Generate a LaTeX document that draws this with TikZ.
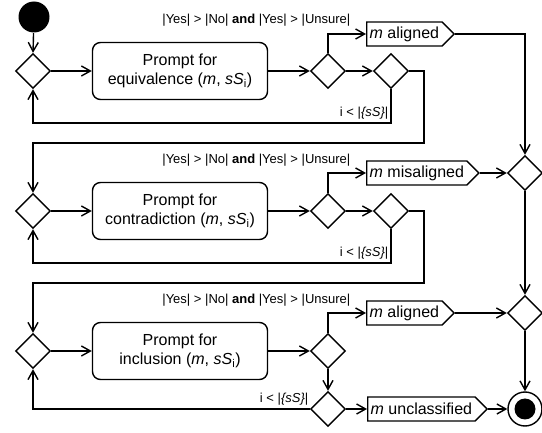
\documentclass[tikz,border=0pt]{standalone}
\usepackage{fontspec}
\setmainfont{Liberation Sans}
\usetikzlibrary{positioning,arrows.meta,shapes.geometric,shapes.symbols}

\begin{document}
\begin{tikzpicture}[
    x=1pt, y=-1pt,
    font=\fontsize{16}{19}\selectfont,
    line width=1.4pt,
    prompt/.style={
        draw,
        rounded corners=8pt,
        align=center,
        minimum width=175pt,
        minimum height=57pt,
        inner sep=2pt,
        fill=white
    },
    choice/.style={
        draw,
        diamond,
        minimum width=35pt,
        minimum height=35pt,
        inner sep=0pt,
        fill=white
    },
    result/.style={
        draw,
        signal,
        signal to=east,
        minimum height=24pt,
        inner sep=3pt,
        anchor=west,
        fill=white
    },
    cond/.style={
        font=\fontsize{13}{15}\selectfont,
        inner sep=0pt
    },
    arrow/.style={
        -{Straight Barb[length=9pt,width=10pt]}
    }
]

\useasboundingbox (0,0) rectangle (542,433);

% start
\node[fill, circle, minimum size=31pt, inner sep=0pt] (start) at (34,17) {};

% =========================
% first round: equivalence
% =========================
\node[choice] (d1) at (33,71) {};
\node[prompt] (p1) at (180,71) {Prompt for\\equivalence (\textit{m}, \textit{sS}\textsubscript{i})};
\node[choice] (d2) at (328,71) {};
\node[choice] (d3) at (391,71) {};
\node[result] (al1) at (366,34) {\textit{m} aligned};

\node[cond, anchor=east] (c1) at (351,20) {|Yes| > |No| \textbf{and} |Yes| > |Unsure|};
\node[cond, anchor=south east] (n1) at (389,120) {i < |\textit{\{sS\}}|};

\coordinate (r1) at (424,143);
\coordinate (b1) at (33,123);

\draw[arrow] (start) -- (d1.north);
\draw[arrow] (d1.east) -- (p1.west);
\draw[arrow] (p1.east) -- (d2.west);
\draw[arrow] (d2.east) -- (d3.west);
\draw[arrow] (d2.north) |- (al1.west);
\draw[arrow] (d3.south) |- (b1) -- (d1.south);

% =========================
% second round: contradiction
% =========================
\node[choice] (d4) at (33,211) {};
\node[prompt] (p2) at (180,211) {Prompt for\\contradiction (\textit{m}, \textit{sS}\textsubscript{i})};
\node[choice] (d5) at (328,211) {};
\node[choice] (d6) at (391,211) {};
\node[result] (mis) at (366,173) {\textit{m} misaligned};
\node[choice] (m1) at (525,173) {};

\node[cond, anchor=east] (c2) at (351,160) {|Yes| > |No| \textbf{and} |Yes| > |Unsure|};
\node[cond, anchor=south east] (n2) at (389,260) {i < |\textit{\{sS\}}|};

\coordinate (r2) at (424,283);
\coordinate (b2) at (33,263);

\draw[arrow] (d3.east) -| (r1) -| (d4.north);
\draw[arrow] (d4.east) -- (p2.west);
\draw[arrow] (p2.east) -- (d5.west);
\draw[arrow] (d5.east) -- (d6.west);
\draw[arrow] (d5.north) |- (mis.west);
\draw[arrow] (d6.south) |- (b2) -- (d4.south);
\draw[arrow] (al1.east) -| (m1.north);
\draw[arrow] (mis.east) -- (m1.west);

% =========================
% third round: inclusion
% =========================
\node[choice] (d7) at (33,351) {};
\node[prompt] (p3) at (180,351) {Prompt for\\inclusion (\textit{m}, \textit{sS}\textsubscript{i})};
\node[choice] (d8) at (328,351) {};
\node[choice] (d9) at (328,409) {};
\node[result] (al3) at (366,313) {\textit{m} aligned};
\node[result] (uncl) at (367,409) {\textit{m} unclassified};
\node[choice] (m2) at (525,313) {};

\node[cond, anchor=east] (c3) at (351,300) {|Yes| > |No| \textbf{and} |Yes| > |Unsure|};
\node[cond, anchor=south east] (n3) at (309,406) {i < |\textit{\{sS\}}|};

% end
\node[draw, circle, minimum size=34pt, inner sep=0pt, fill=white] (end) at (525,409) {};
\node[fill, circle, minimum size=21pt, inner sep=0pt] (endin) at (end) {};

\draw[arrow] (d6.east) -| (r2) -| (d7.north);
\draw[arrow] (d7.east) -- (p3.west);
\draw[arrow] (p3.east) -- (d8.west);
\draw[arrow] (d8.north) |- (al3.west);
\draw[arrow] (d8.south) -- (d9.north);
\draw[arrow] (d9.west) -| (d7.south);
\draw[arrow] (d9.east) -- (uncl.west);
\draw[arrow] (al3.east) -- (m2.west);
\draw[arrow] (m1.south) -- (m2.north);
\draw[arrow] (m2.south) -- (end.north);
\draw[arrow] (uncl.east) -- (end.west);

\end{tikzpicture}
\end{document}
